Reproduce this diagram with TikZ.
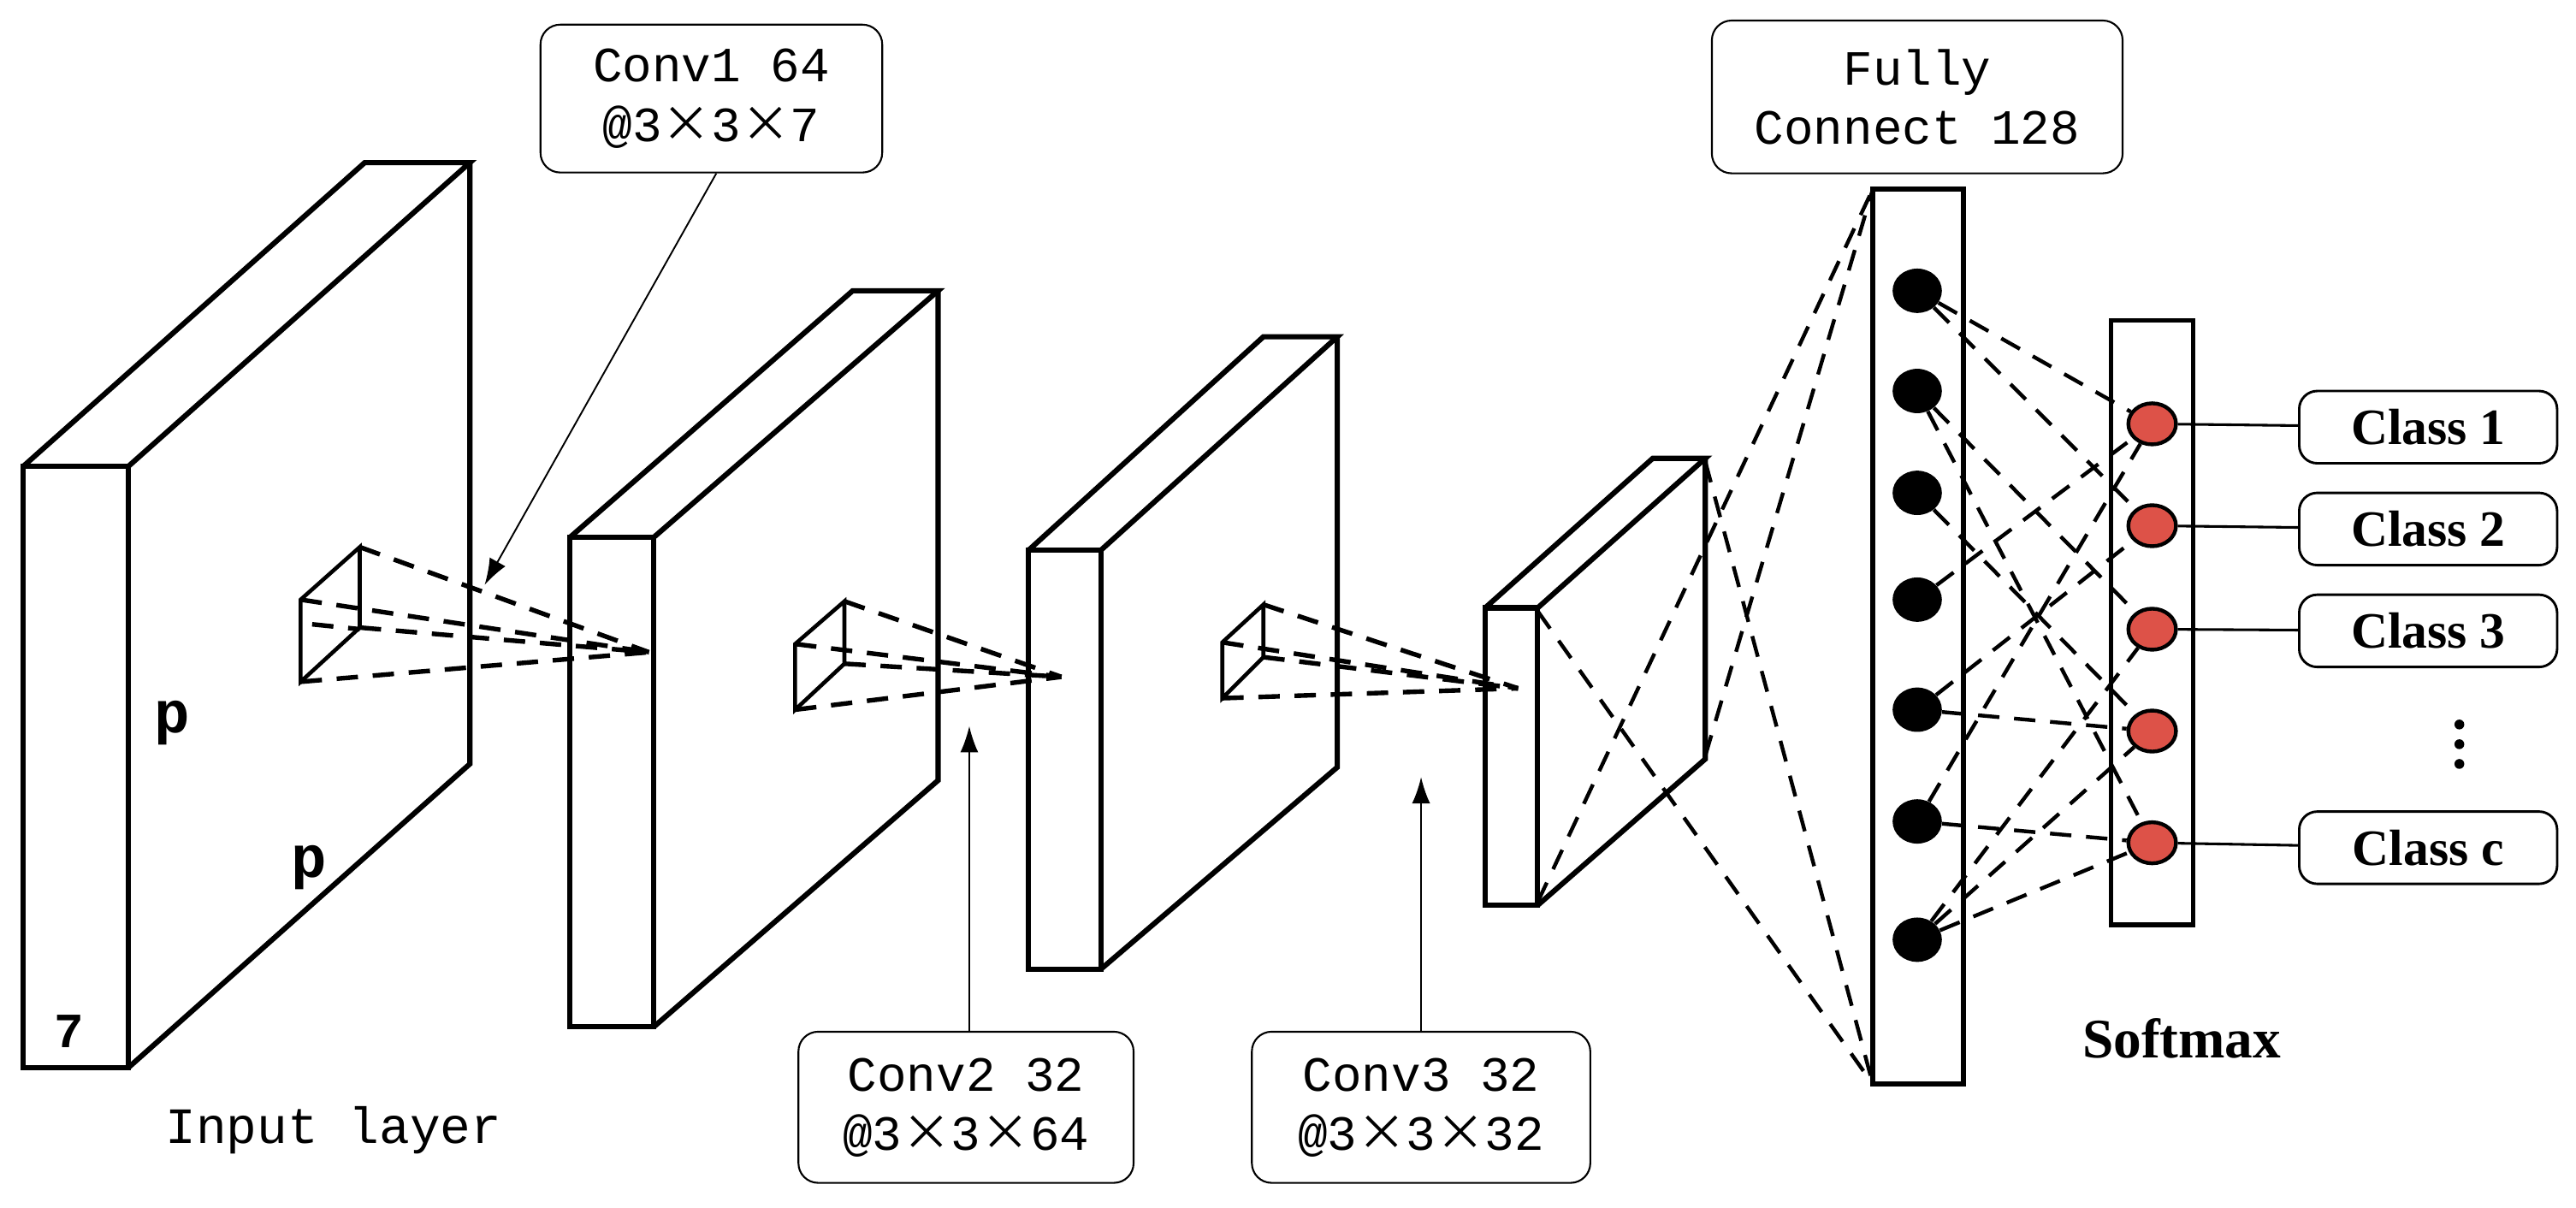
\documentclass[tikz,border=0pt]{standalone}
\usepackage{fontspec}
\setmainfont{Liberation Serif}
\setmonofont{Liberation Mono}
\newfontfamily\cjk{Noto Sans CJK SC}
\usetikzlibrary{arrows.meta,shapes.geometric}
\begin{document}
\begin{tikzpicture}[x=1pt,y=-1pt,
  blk/.style={line width=3.2pt,line join=miter},
  dsh/.style={line width=2.8pt,dash pattern=on 13pt off 9pt},
  fcd/.style={line width=2.3pt,dash pattern=on 13pt off 9pt},
  lbl/.style={draw,line width=1.1pt,rounded corners=12pt,font=\ttfamily\fontsize{30}{36}\selectfont,align=center,inner sep=0pt},
  cls/.style={draw,line width=1.5pt,rounded corners=11pt,minimum width=157pt,minimum height=44pt,font=\bfseries\fontsize{31}{34}\selectfont},
  bn/.style={ellipse,fill=black,minimum width=30pt,minimum height=27pt,inner sep=0pt},
  rn/.style={ellipse,draw,line width=2.3pt,fill={rgb,255:red,221;green,82;blue,72},minimum width=29pt,minimum height=25pt,inner sep=0pt},
  ptr/.style={line width=1pt,-{Latex[length=16pt,width=11pt]}}]
\newcommand{\xx}{{\cjk ×}}
\useasboundingbox (0,0) rectangle (1568,735);
% Block 1
\draw[blk] (14,284) rectangle (78,650);
\draw[blk] (14,284) -- (222,99) -- (286,99) -- (78,284);
\draw[blk] (286,99) -- (286,465) -- (78,650);
% Block 2
\draw[blk] (347,327) rectangle (398,625);
\draw[blk] (347,327) -- (519,177) -- (571,177) -- (398,327);
\draw[blk] (571,177) -- (571,475) -- (398,625);
% Block 3
\draw[blk] (626,335) rectangle (670,590);
\draw[blk] (626,335) -- (769,205) -- (814,205) -- (670,335);
\draw[blk] (814,205) -- (814,467) -- (670,590);
% Block 4
\draw[blk] (904,370) rectangle (936,551);
\draw[blk] (904,370) -- (1006,279) -- (1038,279) -- (936,370);
\draw[blk] (1038,279) -- (1038,462) -- (936,551);
% small cubes
\draw[line width=2.4pt] (183,365) -- (183,415) -- (219,382) -- (219,333) -- cycle;
\coordinate (a1) at (395,397);
\draw[dsh] (219,333) -- (a1); \draw[dsh] (183,365) -- (a1);
\draw[dsh] (219,382) -- (a1); \draw[dsh] (183,415) -- (a1);
\draw[dsh] (190,380) -- (219,383);
\draw[line width=2.4pt] (484,392) -- (484,432) -- (514,404) -- (514,366) -- cycle;
\coordinate (a2) at (646,412);
\draw[dsh] (514,366) -- (a2); \draw[dsh] (484,392) -- (a2);
\draw[dsh] (514,404) -- (a2); \draw[dsh] (484,432) -- (a2);
\draw[line width=2.4pt] (744,391) -- (744,425) -- (769,400) -- (769,368) -- cycle;
\coordinate (a3) at (924,419);
\draw[dsh] (769,368) -- (a3); \draw[dsh] (744,391) -- (a3);
\draw[dsh] (769,400) -- (a3); \draw[dsh] (744,425) -- (a3);
% Fully connected
\draw[line width=3.2pt] (1140,115) rectangle (1195,660);
\coordinate (fct) at (1140,115); \coordinate (fcb) at (1140,660);
\draw[fcd] (936,372) -- (fcb);
\draw[fcd] (936,549) -- (fct);
\draw[fcd] (1038,281) -- (fcb);
\draw[fcd] (1038,460) -- (fct);
\foreach \i/\y in {1/177,2/238,3/300,4/365,5/432,6/500,7/572}
  \node[bn] (B\i) at (1167,\y) {};
% Softmax
\draw[line width=2.8pt] (1285,195) rectangle (1335,563);
\foreach \i/\y in {1/258,2/320,3/383,4/445,5/513}
  \node[rn] (R\i) at (1310,\y) {};
\foreach \a/\b in {1/1,1/2,2/3,2/5,3/4,4/1,5/2,5/4,6/1,6/5,7/3,7/4,7/5}
  \draw[fcd] (B\a) -- (R\b);
% classes
\node[cls] (C1) at (1478,260) {Class 1};
\node[cls] (C2) at (1478,322) {Class 2};
\node[cls] (C3) at (1478,384) {Class 3};
\node[cls] (C5) at (1478,516) {Class c};
\draw[line width=1.6pt] (R1) -- (C1);
\draw[line width=1.6pt] (R2) -- (C2);
\draw[line width=1.6pt] (R3) -- (C3);
\draw[line width=1.6pt] (R5) -- (C5);
\foreach \y in {441,453,465} \fill (1497,\y) circle (3pt);
% labels
\node[lbl,minimum width=208pt,minimum height=90pt] (L1) at (433,60) {Conv1 64\\@3\xx3\xx7};
\node[lbl,minimum width=204pt,minimum height=92pt] (L2) at (588,674) {Conv2 32\\@3\xx3\xx64};
\node[lbl,minimum width=206pt,minimum height=92pt] (L3) at (865,674) {Conv3 32\\@3\xx3\xx32};
\node[lbl,minimum width=250pt,minimum height=93pt] (L4) at (1167,59) {Fully\\Connect 128};
\coordinate (p1) at (295,356);
\coordinate (p2) at (590,442);
\coordinate (p3) at (865,473);
\draw[ptr] (L1.south) ++(3,0) -- (p1);
\draw[ptr] (L2.north) ++(2,0) -- (p2);
\draw[ptr] (L3.north) -- (p3);
\node[font=\ttfamily\fontsize{31}{36}\selectfont] (il) at (203,688) {Input layer};
\node[font=\bfseries\fontsize{34}{38}\selectfont] (sm) at (1328,632) {Softmax};
\node[font=\ttfamily\bfseries\fontsize{30}{36}\selectfont] (t7) at (42,628) {7};
\node[font=\ttfamily\bfseries\fontsize{36}{38}\selectfont] (tp1) at (105,440) {p};
\node[font=\ttfamily\bfseries\fontsize{36}{38}\selectfont] (tp2) at (188,528) {p};
\end{tikzpicture}
\end{document}
